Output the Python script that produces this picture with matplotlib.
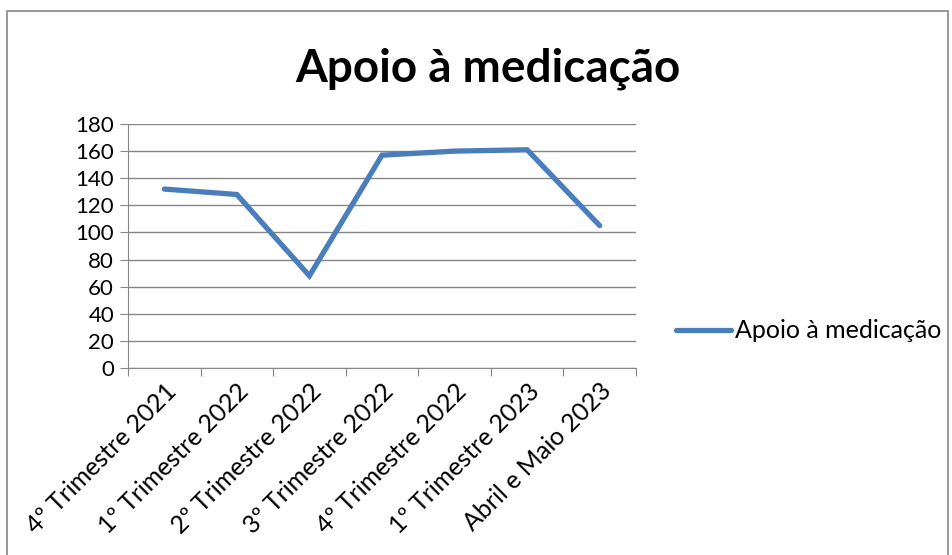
import numpy as np
import matplotlib.pyplot as plt
from matplotlib.patches import Rectangle

# data
categorias = ["4º Trimestre 2021", "1º Trimestre 2022", "2º Trimestre 2022",
              "3º Trimestre 2022", "4º Trimestre 2022", "1º Trimestre 2023",
              "Abril e Maio 2023"]
valores = [132, 128, 68, 157, 160, 161, 105]
titulo = "Apoio à medicação"
y_ticks = list(range(0, 181, 20))

plt.rcParams['font.family'] = ['Lato', 'DejaVu Sans']
azul = '#4A7EBB'
cinza = '#868686'

W, H = 953, 555
fig = plt.figure(figsize=(W / 100, H / 100), dpi=100)

# outer chart frame
fig.patches.append(Rectangle((7 / W, -0.05), (948 - 7) / W, 1.05 - 11 / H,
                             transform=fig.transFigure, fill=False,
                             edgecolor=cinza, linewidth=1.2))

ax = fig.add_axes([128 / W, 1 - 368 / H, (636 - 128) / W, (368 - 124) / H])

x = np.arange(len(categorias))
ax.plot(x, valores, color=azul, linewidth=3.8, solid_capstyle='round',
        solid_joinstyle='miter', label=titulo, zorder=3)

ax.set_xlim(-0.5, len(categorias) - 0.5)
ax.set_ylim(0, 180)
ax.set_yticks(y_ticks)
ax.yaxis.grid(True, color=cinza, linewidth=1)
ax.set_axisbelow(True)

# tick marks on category boundaries, labels centred
ax.set_xticks(np.arange(-0.5, len(categorias)), minor=False)
ax.set_xticklabels([])
ax.set_xticks(x, minor=True)
ax.set_xticklabels(categorias, minor=True, rotation=45, ha='right',
                   rotation_mode='anchor', fontsize=18)
ax.tick_params(axis='x', which='minor', length=0, pad=8)
ax.tick_params(axis='x', which='major', length=6, color=cinza, direction='out')
ax.tick_params(axis='y', length=6, color=cinza, labelsize=16, pad=4)

for s in ['top', 'right']:
    ax.spines[s].set_visible(False)
ax.spines['left'].set_color(cinza)
ax.spines['bottom'].set_color(cinza)

fig.text(488 / W, 1 - 81 / H, titulo, ha='center', va='baseline',
         fontsize=33, fontweight='bold')

ax.legend(loc='center left', bbox_to_anchor=(666 / W, 1 - 331 / H),
          bbox_transform=fig.transFigure, frameon=False, fontsize=18,
          handlelength=2.2, handletextpad=0.15, borderaxespad=0)

fig.savefig("out.png", dpi=100)
